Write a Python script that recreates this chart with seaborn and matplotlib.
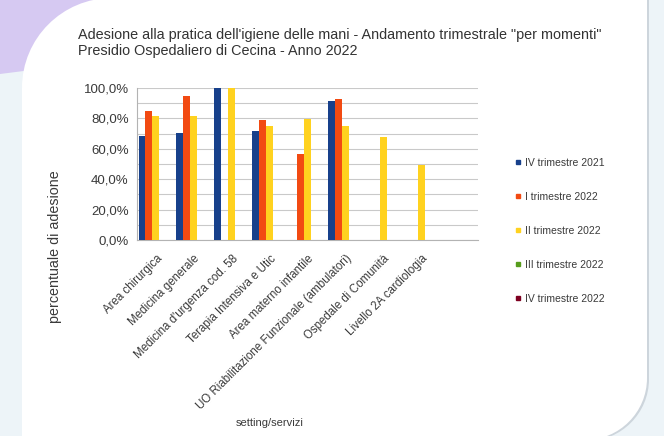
import matplotlib
matplotlib.use("Agg")
import matplotlib.pyplot as plt
import seaborn as sns
import pandas as pd
import numpy as np
from matplotlib.path import Path
from matplotlib.patches import PathPatch, Polygon
from matplotlib.lines import Line2D
from matplotlib.ticker import FuncFormatter, MultipleLocator, FixedLocator

nan = np.nan

# ---------------- data ----------------
categories = [
    "Area chirurgica",
    "Medicina generale",
    "Medicina d'urgenza cod. 58",
    "Terapia Intensiva e Utic",
    "Area materno infantile",
    "UO Riabilitazione Funzionale (ambulatori)",
    "Ospedale di Comunità",
    "Livello 2A cardiologia",
    " ",
]
series = ["IV trimestre 2021", "I trimestre 2022", "II trimestre 2022",
          "III trimestre 2022", "IV trimestre 2022"]
iv_2021 = [68.6, 70.3, 100.0, 71.9, nan, 91.2, nan, nan, nan]
i_2022 = [84.6, 94.5, nan, 79.1, 56.7, 92.7, nan, nan, nan]
ii_2022 = [81.3, 81.3, 100.0, 75.2, 79.8, 75.2, 67.7, 49.5, nan]
iii_2022 = [nan] * 9
iv_2022 = [nan] * 9
series_colors = ["#17408b", "#f24a12", "#ffd21f", "#579d1c", "#7e0021"]

title_lines = ["Adesione alla pratica dell'igiene delle mani - Andamento trimestrale \"per momenti\"",
               "Presidio Ospedaliero di Cecina - Anno 2022"]
y_label = "percentuale di adesione"
x_label = "setting/servizi"

# ---------------- figure ----------------
W, H = 664, 436
sns.set_style("white")
plt.rcParams['font.family'] = ['Liberation Sans', 'DejaVu Sans']
fig = plt.figure(figsize=(W / 100, H / 100), dpi=100)
fig.patch.set_facecolor("#edf4f8")


def px(x, y):
    return (x / W, 1 - y / H)


# lavender decoration top-left
fig.patches.append(Polygon([px(0, 0), px(150, 0), px(150, 55), px(0, 74)], closed=True,
                           transform=fig.transFigure, facecolor="#d6c9f2", edgecolor="none", zorder=0))


def card_path(left, top, right, bottom, r_tl, r_br, dx=0, dy=0):
    k = 0.5523
    pts = [
        (left, bottom),
        (left, top + r_tl),
        (left, top + r_tl * (1 - k)), (left + r_tl * (1 - k), top), (left + r_tl, top),
        (right, top),
        (right, bottom - r_br),
        (right, bottom - r_br * (1 - k)), (right - r_br * (1 - k), bottom), (right - r_br, bottom),
        (left, bottom),
    ]
    codes = [Path.MOVETO, Path.LINETO, Path.CURVE4, Path.CURVE4, Path.CURVE4,
             Path.LINETO, Path.LINETO, Path.CURVE4, Path.CURVE4, Path.CURVE4, Path.CLOSEPOLY]
    return Path([px(x + dx, y + dy) for x, y in pts], codes)


fig.patches.append(PathPatch(card_path(22, -2, 647, 440, 90, 62, dx=2, dy=1), transform=fig.transFigure,
                             facecolor="#cdd5dc", edgecolor="none", zorder=0.5))
fig.patches.append(PathPatch(card_path(22, -2, 647, 440, 90, 62), transform=fig.transFigure,
                             facecolor="white", edgecolor="none", zorder=1))

# ---------------- axes ----------------
ax = fig.add_axes([137 / W, 1 - 240 / H, (478 - 137) / W, (240 - 88) / H])
ax.set_zorder(3)
ax.set_facecolor("none")

cols = {series[0]: iv_2021, series[1]: i_2022, series[2]: ii_2022,
        series[3]: iii_2022, series[4]: iv_2022}
rows = []
for s, vals in cols.items():
    for c, v in zip(categories, vals):
        rows.append({"setting": c, "serie": s, "valore": v})
df = pd.DataFrame(rows).dropna()

sns.barplot(data=df, x="setting", y="valore", hue="serie", order=categories, hue_order=series,
            palette=dict(zip(series, series_colors)), width=0.92, saturation=1,
            linewidth=0, legend=False, ax=ax, zorder=3)

ax.set_xlim(-0.5, len(categories) - 0.5)
ax.set_ylim(0, 100)
ax.yaxis.set_major_locator(MultipleLocator(20))
ax.yaxis.set_minor_locator(MultipleLocator(10))
ax.yaxis.set_major_formatter(FuncFormatter(lambda v, p: f"{v:.1f}%".replace(".", ",")))
ax.grid(which="both", axis="y", color="#c9c9c9", lw=0.8, zorder=0)
ax.grid(False, axis="x")
ax.set_axisbelow(True)
for s in ["top", "right"]:
    ax.spines[s].set_visible(False)
for s in ["left", "bottom"]:
    ax.spines[s].set_color("#b3b3b3")
    ax.spines[s].set_linewidth(0.8)

ax.tick_params(axis="y", which="major", length=4, color="#b3b3b3", labelsize=9.5, labelcolor="#3a3a3a", pad=2)
ax.tick_params(axis="y", which="minor", length=0)
ax.xaxis.set_minor_locator(FixedLocator(np.arange(-0.5, len(categories), 1.0)))
ax.tick_params(axis="x", which="minor", length=4, color="#b3b3b3")
ax.tick_params(axis="x", which="major", length=0, labelsize=8.3, labelcolor="#3a3a3a", pad=9)
ax.set_xticks(range(len(categories)))
ax.set_xticklabels(categories, rotation=45, ha="right", rotation_mode="anchor")
ax.set_xlabel("")
ax.set_ylabel("")

# ---------------- texts ----------------
fig.text(*px(78, 35), title_lines[0], fontsize=10.4, color="#333333", va="center", ha="left", zorder=5)
fig.text(*px(78, 51), title_lines[1], fontsize=10.4, color="#333333", va="center", ha="left", zorder=5)
fig.text(*px(55, 247), y_label, fontsize=10.3, color="#3a3a3a", rotation=90, va="center", ha="center", zorder=5)
fig.text(*px(270, 423), x_label, fontsize=8, color="#3a3a3a", va="center", ha="center", zorder=5)

handles = [Line2D([], [], marker="s", linestyle="", color=c, markersize=3.5) for c in series_colors]
leg = fig.legend(handles, series, loc="upper left", bbox_to_anchor=px(515, 158), frameon=False,
                 fontsize=7.5, handlelength=0.6, handletextpad=0.4, labelspacing=2.3, borderpad=0,
                 borderaxespad=0)
leg.set_zorder(5)
for t in leg.get_texts():
    t.set_color("#3a3a3a")

fig.savefig("out.png", dpi=100, facecolor=fig.get_facecolor())
